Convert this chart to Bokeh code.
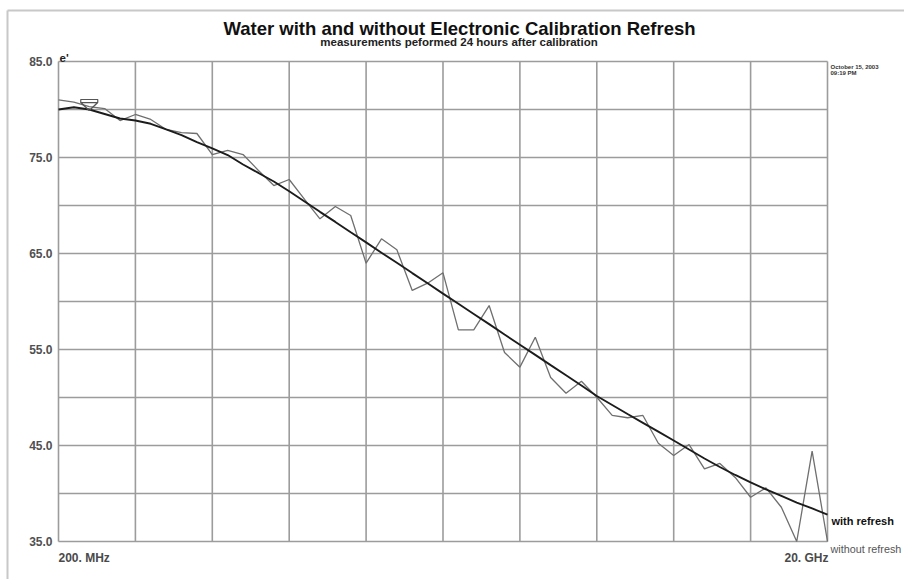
from bokeh.plotting import figure
from bokeh.models import Range1d
from bokeh.core.properties import value
from bokeh.embed import file_html
from bokeh.resources import INLINE

freq_ghz = [0.2, 0.596, 0.992, 1.388, 1.784, 2.18, 2.576, 2.972, 3.368, 3.764,
            4.16, 4.556, 4.952, 5.348, 5.744, 6.14, 6.536, 6.932, 7.328, 7.724,
            8.12, 8.516, 8.912, 9.308, 9.704, 10.1, 10.496, 10.892, 11.288, 11.684,
            12.08, 12.476, 12.872, 13.268, 13.664, 14.06, 14.456, 14.852, 15.248, 15.644,
            16.04, 16.436, 16.832, 17.228, 17.624, 18.02, 18.416, 18.812, 19.208, 19.604, 20.0]

with_refresh = [80.0, 80.23, 80.0, 79.53, 79.06, 78.85, 78.51, 77.92, 77.34, 76.61,
                75.94, 75.26, 74.27, 73.39, 72.5, 71.48, 70.42, 69.34, 68.29, 67.22,
                66.16, 65.08, 64.03, 62.96, 61.90, 60.82, 59.76, 58.70, 57.64, 56.56,
                55.5, 54.44, 53.37, 52.31, 51.25, 50.16, 49.22, 48.28, 47.36, 46.44,
                45.52, 44.58, 43.65, 42.76, 41.93, 41.15, 40.42, 39.74, 39.06, 38.44, 37.81]

without_refresh = [81.0, 80.76, 80.31, 80.10, 78.85, 79.48, 78.96, 77.92, 77.60, 77.50,
                   75.31, 75.73, 75.31, 73.65, 72.08, 72.71, 70.63, 68.61, 69.90, 68.96,
                   63.99, 66.53, 65.39, 61.15, 61.91, 62.99, 57.05, 57.05, 59.58, 54.69,
                   53.16, 56.28, 52.08, 50.45, 51.70, 50.03, 48.13, 47.89, 48.13, 45.24,
                   43.96, 45.10, 42.57, 43.13, 41.67, 39.61, 40.59, 38.57, 35.0, 44.41, 35.0]

x_grid_ticks = [0.2, 2.18, 4.16, 6.14, 8.12, 10.1, 12.08, 14.06, 16.04, 18.02, 20.0]
y_grid_ticks = [35, 40, 45, 50, 55, 60, 65, 70, 75, 80, 85]
y_label_ticks = [35, 45, 55, 65, 75, 85]
y_tick_labels = ["35.0", "45.0", "55.0", "65.0", "75.0", "85.0"]

title_text = "Water with and without Electronic Calibration Refresh"
subtitle_text = "measurements peformed 24 hours after calibration"
y_axis_name = "e'"
x_start_label = "200. MHz"
x_end_label = "20. GHz"
date_line1 = "October 15, 2003"
date_line2 = "09:19 PM"
series_names = ["with refresh", "without refresh"]
marker_index = 2

W, H = 904, 579
# plot frame position inside the page (pixels)
L, R, T, B = 58, 827, 61, 541
X0, X1 = 0.2, 20.0
Y0, Y1 = 35.0, 85.0
SX = (X1 - X0) / (R - L)   # data units per pixel (x)
SY = (Y1 - Y0) / (B - T)   # data units per pixel (y)


def dx(px):
    return X0 + (px - L) * SX


def dy(py):
    return Y0 + (B - py) * SY


FONT = "Liberation Sans"
GRID = "#9c9c9c"

p = figure(width=W, height=H, output_backend="svg", toolbar_location=None,
           x_axis_type=None, y_axis_type=None,
           x_range=Range1d(dx(0), dx(W)), y_range=Range1d(dy(H), dy(0)),
           min_border=0, min_border_left=0, min_border_right=0,
           min_border_top=0, min_border_bottom=0)
p.outline_line_color = None
p.background_fill_color = "white"
p.border_fill_color = "white"

# outer light page border
p.segment(x0=[dx(7), dx(7)], y0=[dy(10), dy(10)], x1=[dx(7), dx(W + 20)], y1=[dy(H + 20), dy(10)],
          line_color="#c8c8c8", line_width=2)

# grid (including frame edges)
p.segment(x0=x_grid_ticks, y0=[Y0] * len(x_grid_ticks), x1=x_grid_ticks, y1=[Y1] * len(x_grid_ticks),
          line_color=GRID, line_width=1.6)
p.segment(x0=[X0] * len(y_grid_ticks), y0=y_grid_ticks, x1=[X1] * len(y_grid_ticks), y1=y_grid_ticks,
          line_color=GRID, line_width=1.6)

# y tick labels
p.text(x=[X0] * len(y_label_ticks), y=y_label_ticks, text=y_tick_labels, x_offset=-6,
       text_align="right", text_baseline="middle", text_font=value(FONT),
       text_font_size="12px", text_font_style="bold", text_color="#505050")

# traces
p.line(freq_ghz, without_refresh, line_color="#6f6f6f", line_width=1.3)
p.line(freq_ghz, with_refresh, line_color="#1c1c1c", line_width=1.9)

# marker: inverted triangle with bar, tip on the trace
mx = freq_ghz[marker_index]
my = with_refresh[marker_index]
p.patch(x=[mx - 8.5 * SX, mx + 8.5 * SX, mx], y=[my + 7 * SY, my + 7 * SY, my - 1 * SY],
        fill_color="white", fill_alpha=0.0, line_color="#555555", line_width=1.3)
p.quad(left=[mx - 8.5 * SX], right=[mx + 8.5 * SX], bottom=[my + 7 * SY], top=[my + 10 * SY],
       fill_color="white", line_color="#555555", line_width=1.2)


def txt(px, py, s, size, style="bold", align="left", color="#111111", baseline="alphabetic"):
    p.text(x=[dx(px)], y=[dy(py)], text=[s], text_font=value(FONT), text_font_size=size,
           text_font_style=style, text_align=align, text_baseline=baseline, text_color=color)


txt(459, 27.5, title_text, "18.5px", align="center", color="#111111")
txt(458.5, 41, subtitle_text, "11.5px", align="center", color="#222222")
txt(59, 57, y_axis_name, "11.5px", color="#222222")
txt(58, 557.5, x_start_label, "12px", color="#4a4a4a")
txt(828, 557.5, x_end_label, "12px", align="right", color="#4a4a4a")
txt(830, 66, date_line1, "6px", color="#333333")
txt(830, 72.5, date_line2, "6px", color="#333333")
txt(831, 520, series_names[0], "11px", color="#111111")
txt(830, 548, series_names[1], "10.8px", style="normal", color="#555555")

open("out.html", "w").write(file_html(p, INLINE))
